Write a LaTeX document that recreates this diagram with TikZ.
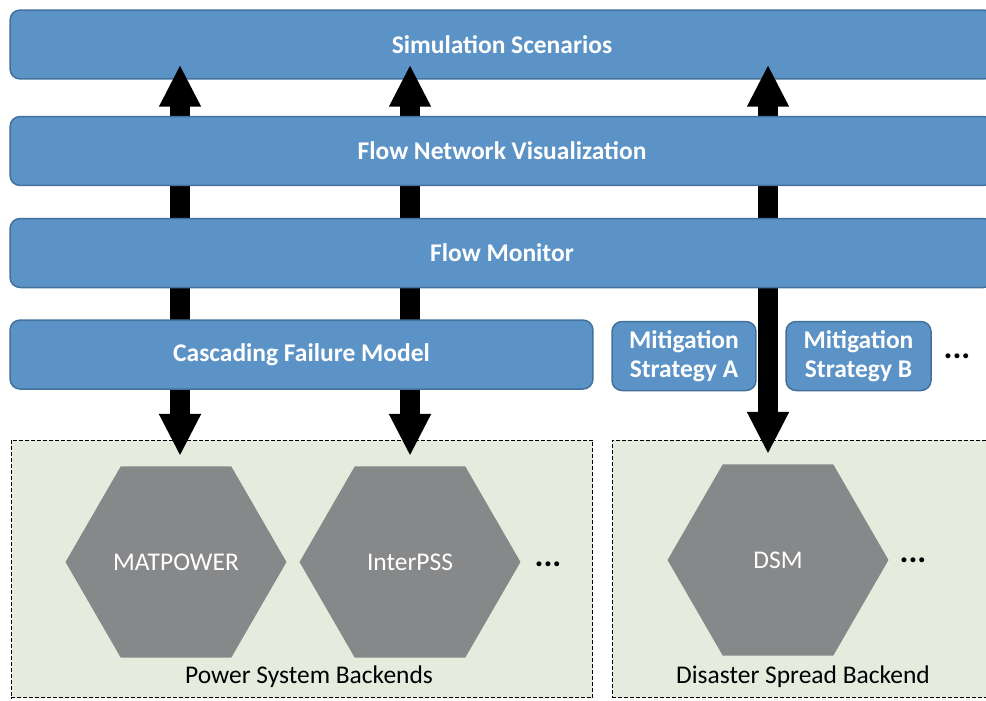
\documentclass[tikz,border=0pt]{standalone}
\usepackage{fontspec}
\setmainfont{Carlito}
\usetikzlibrary{shapes.geometric,arrows.meta}

\definecolor{barblue}{RGB}{92,147,199}
\definecolor{barline}{RGB}{66,113,156}
\definecolor{hexgray}{RGB}{135,136,138}
\definecolor{boxgreen}{RGB}{230,236,221}

\tikzset{
  layer/.style={draw=barline,fill=barblue,line width=0.03cm,rounded corners=0.2cm,
    text=white,font=\fontsize{14.5}{16.5}\selectfont\bfseries,minimum height=1.38cm,
    inner sep=0pt,align=center},
  backend/.style={regular polygon,regular polygon sides=6,fill=hexgray,minimum size=4.42cm,
    inner sep=0pt,text=white,font=\fontsize{14.5}{16.5}\selectfont},
  group/.style={draw,fill=boxgreen,line width=0.02cm,dash pattern=on 0.08cm off 0.04cm,
    inner sep=0pt},
  bigarrow/.style={line width=0.4cm,
    {Triangle[length=0.84cm,width=0.78cm]}-{Triangle[length=0.84cm,width=0.78cm]}},
  more/.style={font=\fontsize{19}{20}\selectfont\bfseries,inner sep=0pt},
  caption/.style={font=\fontsize{14.5}{16.5}\selectfont}
}

\begin{document}
\begin{tikzpicture}[x=0.02cm,y=-0.02cm]

      \useasboundingbox (0,0) rectangle (986,700);
      \clip (0,0) rectangle (986,700);

      \node[layer,minimum width=19.68cm] (sim) at (502,44.5) {Simulation Scenarios};

      \begin{scope}[every node/.style={group}]
        \node[minimum width=11.64cm,minimum height=5.16cm] (psys) at (302,569) {};
        \node[minimum width=8cm,minimum height=5.16cm] (dsys) at (812,569) {};
      \end{scope}

      \begin{scope}[every node/.style={backend}]
        \node (mat) at (176,562) {MATPOWER};
        \node (ipss) at (410,562) {InterPSS};
        \node (dsm) at (778,560) {DSM};
      \end{scope}

      \node[more] (dots1) at (548,564) {...};
      \node[more] (dots2) at (913,560) {...};
      \node[caption] (plab) at (309,677) {Power System Backends};
      \node[caption] (dlab) at (803,677) {Disaster Spread Backend};

      \draw[bigarrow] ([xshift=0.08cm,yshift=0.2cm]mat.north) -- ([xshift=0.08cm,yshift=0.3cm]sim.south -| mat.north);
      \draw[bigarrow] ([yshift=0.2cm]ipss.north) -- ([yshift=0.3cm]sim.south -| ipss.north);
      \draw[bigarrow] ([xshift=-0.2cm,yshift=0.2cm]dsm.north) -- ([xshift=-0.2cm,yshift=0.3cm]sim.south -| dsm.north);

      \begin{scope}[every node/.style={layer}]
        \node[minimum width=19.68cm] (viz) at (502,151) {Flow Network Visualization};
        \node[minimum width=19.68cm] (mon) at (502,253) {Flow Monitor};
        \node[minimum width=11.66cm] (cfm) at (301.5,354.5) {Cascading Failure Model};
        \node[minimum width=2.88cm] (mita) at (684,356) {Mitigation\\Strategy A};
        \node[minimum width=2.9cm] (mitb) at (858.5,356) {Mitigation\\Strategy B};
      \end{scope}

      \node[more] (dots3) at (957,356) {...};

\end{tikzpicture}
\end{document}
